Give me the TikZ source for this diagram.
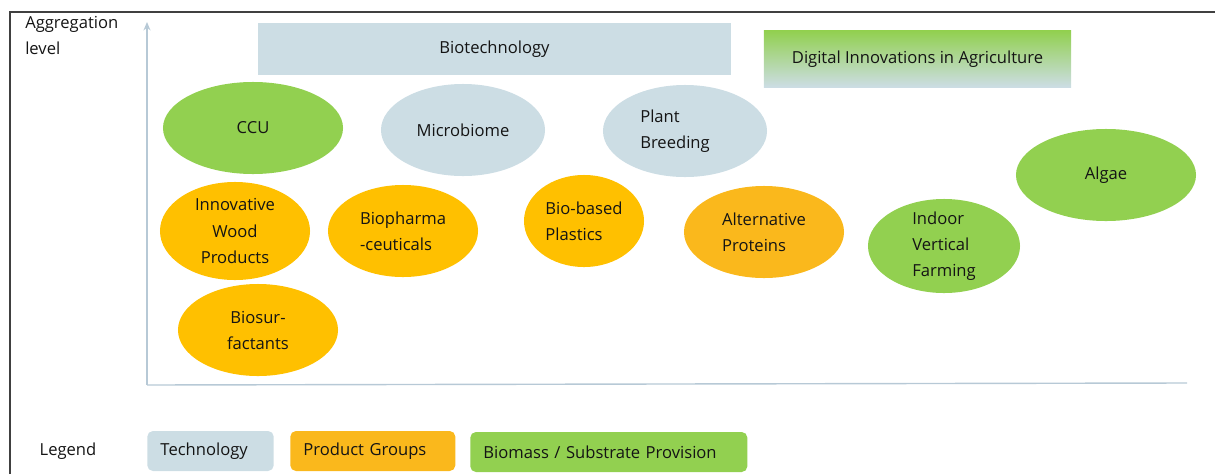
\documentclass[tikz,border=0pt]{standalone}
\usepackage{fontspec}
\setmainfont{Open Sans}
\usepackage{tikz}
\usetikzlibrary{shapes.geometric,arrows.meta}

\definecolor{techblue}{HTML}{CCDDE4}
\definecolor{prodorange}{HTML}{FFC000}
\definecolor{protorange}{HTML}{FAB81C}
\definecolor{biogreen}{HTML}{92D050}
\definecolor{axisblue}{HTML}{B7C9D6}
\definecolor{textdark}{HTML}{141414}

\begin{document}
\begin{tikzpicture}[%
        x=0.025cm, y=-0.025cm,
        every node/.style={font=\fontsize{11.8}{18.5}\selectfont, text=textdark},
        blob/.style={ellipse, inner sep=-2pt},
        tech/.style={blob, fill=techblue},
        prod/.style={blob, fill=prodorange},
        bio/.style={blob, fill=biogreen},
        keybox/.style={rectangle, rounded corners=4pt, minimum height=1cm,
                       inner xsep=0.33cm, align=left, anchor=west}
        ]
        \useasboundingbox (0,0) rectangle (1215,474);
        \draw[black!75, line width=0.8pt] (10,474) -- (10,12) -- (1215,12);

        % axes
        \coordinate (origin) at (147,385);
        \coordinate (ytop) at (147,22);
        \coordinate (xend) at (1187,383);
        \draw[axisblue, line width=1pt, -{Stealth[length=6pt,width=5pt]}] (origin) -- (ytop);
        \draw[axisblue, line width=1pt] (origin) -- (xend);
        \node[anchor=north west, align=left, inner sep=0pt] (ylabel) at (25,16) {Aggregation\\level};

        % top boxes
        \node[rectangle, fill=techblue, minimum width=11.825cm, minimum height=1.3cm] (biotech) at (494.5,49) {Biotechnology};
        \node[rectangle, top color=biogreen, middle color=biogreen!85!techblue, bottom color=techblue,
              minimum width=7.675cm, minimum height=1.4cm] (digital) at (917.5,59) {Digital Innovations in Agriculture};

        % fields
        \node[bio,  minimum width=4.5cm, minimum height=2.3cm] (ccu) at (253,128) {CCU};
        \node[tech, minimum width=4.1cm, minimum height=2.3cm] (microbiome) at (463,130) {Microbiome};
        \node[tech, minimum width=4.1cm, minimum height=2.3cm, align=left] (breeding) at (685,131) {Plant\\Breeding\hspace*{0.5cm}};
        \node[bio,  minimum width=4.5cm, minimum height=2.3cm] (algae) at (1106,175) {Algae};
        \node[prod, minimum width=3.75cm, minimum height=2.45cm, align=center] (wood) at (235,231) {Innovative\\Wood\\Products};
        \node[prod, minimum width=3.75cm, minimum height=2.3cm, align=left] (pharma) at (403,231) {Biopharma\\-ceuticals};
        \node[prod, minimum width=3.0cm, minimum height=2.3cm, align=left] (plastics) at (584,221) {Bio-based\\Plastics};
        \node[blob, fill=protorange, minimum width=4.0cm, minimum height=2.3cm, align=left] (proteins) at (764,232) {Alternative\\Proteins};
        \node[bio,  minimum width=3.8cm, minimum height=2.35cm, align=left] (farming) at (944,246) {Indoor\\Vertical\\Farming};
        \node[prod, minimum width=4.0cm, minimum height=2.3cm, align=center] (surfactants) at (258,330) {Biosur-\\factants};

        % legend
        \node (legend) at (68,451) {Legend};
        \node[keybox, fill=techblue, text width=2.5cm] (keytech) at (147,451) {Technology};
        \node[keybox, fill=protorange, text width=3.465cm] (keyprod) at (290,451) {Product Groups};
        \node[keybox, fill=biogreen, text width=6.265cm] (keybio) at (470,452) {Biomass / Substrate Provision};
\end{tikzpicture}
\end{document}
